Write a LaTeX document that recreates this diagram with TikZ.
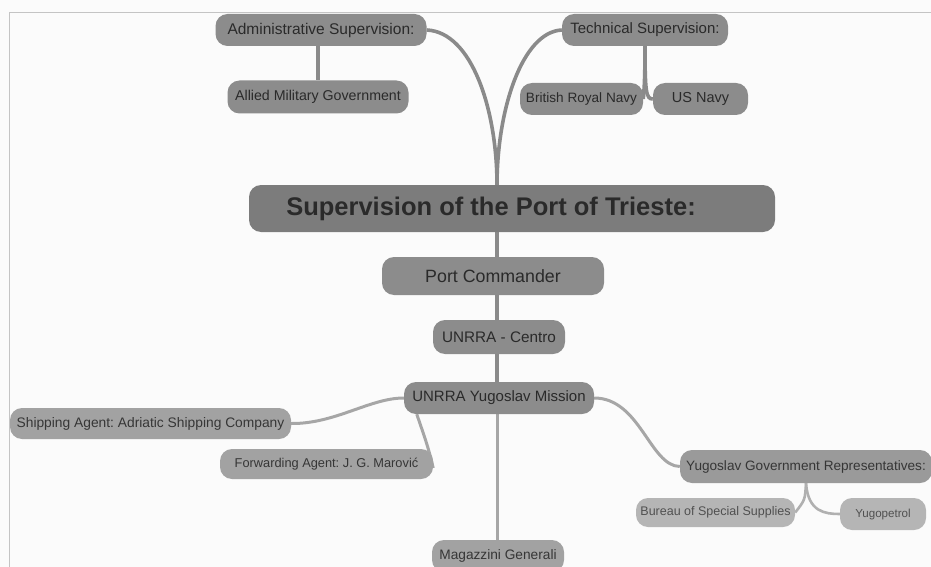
\documentclass[tikz,border=0pt]{standalone}
\usepackage{fontspec}
\setmainfont{Liberation Sans}
\usetikzlibrary{backgrounds}
\frenchspacing
\definecolor{bg}{HTML}{FBFBFB}
\definecolor{frm}{HTML}{C4C4C4}
\definecolor{boxA}{HTML}{8C8C8C}
\definecolor{boxM}{HTML}{7C7C7C}
\definecolor{boxB}{HTML}{A2A2A2}
\definecolor{boxC}{HTML}{9A9A9A}
\definecolor{boxD}{HTML}{B5B5B5}
\definecolor{txA}{HTML}{2A2A2A}
\definecolor{txB}{HTML}{363636}
\definecolor{txC}{HTML}{505050}
\definecolor{lnA}{HTML}{8A8A8A}
\definecolor{lnB}{HTML}{A6A6A6}
\definecolor{lnC}{HTML}{B0B0B0}
\tikzset{
  box/.style={rounded corners=12pt, inner sep=0pt, align=center},
  bxa/.style={box, fill=boxA, text=txA},
  bxb/.style={box, fill=boxB, text=txB},
  bxc/.style={box, fill=boxC, text=txB},
  bxd/.style={box, fill=boxD, text=txC},
  conn/.style={draw=lnA, line width=3.6pt},
  lconn/.style={draw=lnB, line width=3pt},
  sconn/.style={draw=lnC, line width=2.6pt}
}
\newcommand{\fs}[1]{\fontsize{#1}{#1}\selectfont}
\begin{document}
\begin{tikzpicture}[x=1pt,y=-1pt]
\useasboundingbox (0,0) rectangle (931,567);

% nodes
\node[bxa, minimum width=211pt, minimum height=32pt, font=\fs{15.5}] (adm) at (321,30) {Administrative Supervision:};
\node[bxa, minimum width=181pt, minimum height=33pt, font=\fs{14.2}] (amg) at (318,97) {Allied Military Government};
\node[bxa, minimum width=166pt, minimum height=32pt, font=\fs{15}] (tech) at (645,30) {Technical Supervision:};
\node[bxa, minimum width=123pt, minimum height=32pt, font=\fs{13.6}] (brn) at (581.5,99) {British Royal Navy};
\node[bxa, minimum width=95pt, minimum height=32pt, font=\fs{14.5}] (usn) at (700.5,99) {US Navy};
\node[box, fill=boxM, text=txA, minimum width=526pt, minimum height=47pt, font=\fs{25.5}\bfseries] (main) at (512,208.5) {Supervision of the Port of Trieste:\hspace*{42pt}};
\node[bxa, minimum width=222pt, minimum height=38pt, font=\fs{17.8}] (pc) at (493,276) {Port Commander};
\node[bxa, minimum width=132pt, minimum height=34pt, font=\fs{15.3}] (cen) at (499,337) {UNRRA - Centro};
\node[bxa, minimum width=190pt, minimum height=32pt, font=\fs{15}] (mis) at (499,398) {UNRRA Yugoslav Mission};
\node[bxb, minimum width=281pt, minimum height=31pt, font=\fs{13.8}] (ship) at (150.5,423.5) {Shipping Agent: Adriatic Shipping Company};
\node[bxb, minimum width=213pt, minimum height=30pt, font=\fs{12.8}] (fwd) at (326.5,464) {Forwarding Agent: J. G. Marović};
\node[bxc, minimum width=252pt, minimum height=33pt, font=\fs{13.6}] (ygr) at (806,466.5) {Yugoslav Government Representatives:};
\node[bxd, minimum width=159pt, minimum height=29pt, font=\fs{12.5}] (bss) at (715.5,512.5) {Bureau of Special Supplies};
\node[bxd, minimum width=86pt, minimum height=32pt, font=\fs{11.6}] (yp) at (883,514) {Yugopetrol};
\node[bxb, minimum width=132pt, minimum height=32pt, font=\fs{13.7}] (mag) at (498,556) {Magazzini Generali};

% trunk coordinates
\coordinate (mt) at (497,185);
\coordinate (mb) at (497,232);

\begin{scope}[on background layer]
\fill[bg] (0,0) rectangle (931,567);
\draw[frm, line width=1.6pt] (9.5,567) -- (9.5,12.5) -- (931,12.5);
\draw[conn] (adm.east) .. controls (472,32) and (497,110) .. (mt);
\draw[conn] (tech.west) .. controls (522,32) and (497,110) .. (mt);
\draw[conn] (adm.south -| amg.north) -- (amg.north);
\draw[conn] (tech.south) .. controls (645,80) and (644,92) .. (brn.east);
\draw[conn] (tech.south) .. controls (645,92) and (646,99) .. (usn.west);
\draw[conn] (mb) -- (pc.north -| mb);
\draw[conn] (pc.south -| mb) -- (cen.north -| mb);
\draw[conn] (cen.south -| mb) -- (mis.north -| mb);
\draw[lconn] (mis.south -| mb) -- (mag.north -| mb);
\draw[lconn] (mis.west) .. controls (370,398) and (335,424) .. (ship.east);
\draw[lconn] ([xshift=13pt]mis.south west) .. controls (422,430) and (428,445) .. ([yshift=-4pt]fwd.east);
\draw[lconn] (mis.east) .. controls (640,398) and (650,466) .. (ygr.west);
\draw[sconn] (ygr.south) .. controls (805,500) .. (bss.east);
\draw[sconn] (ygr.south) .. controls (808,512) and (825,514) .. (yp.west);
\end{scope}
\end{tikzpicture}
\end{document}
